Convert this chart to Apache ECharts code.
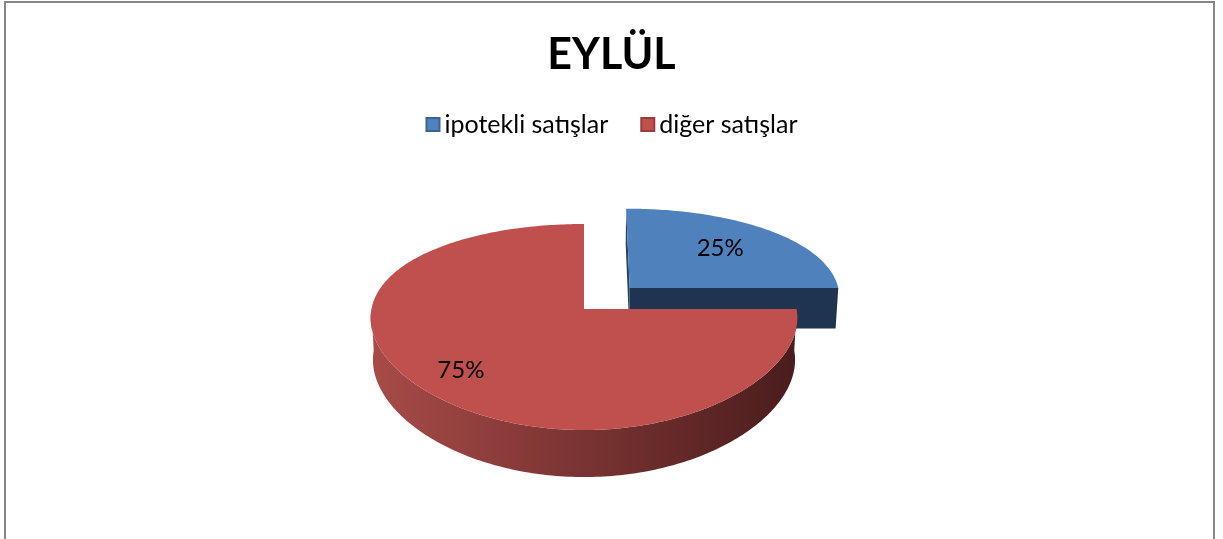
<!DOCTYPE html>
<html>
<head>
<meta charset="utf-8">
<style>
  html, body { margin: 0; padding: 0; background: #fff; }
  #chart { width: 1223px; height: 539px; }
</style>
<script src="https://cdn.jsdelivr.net/npm/echarts@6/dist/echarts.min.js"></script>
</head>
<body>
<div id="chart"></div>
<script>
// data
const categories = ['ipotekli satışlar', 'diğer satışlar'];
const values = [25, 75];
const explode = [0.31, 0];          // pulled out slices (fraction of radius)
const colors = ['#4f81bd', '#c0504d'];
const borderColors = ['#3a6496', '#9c3c39'];
// side walls: [light, dark]
const sideColors = [['#2a4466', '#1f3450'], ['#a84b48', '#4a1c1c']];
const labelRadius = [0.65, 0.78];

// fake 3D view (perspective tilt)
const view = {
  cx: 584, cy: 309,   // projected centre of the pie
  f: 1057,            // focal length (px), vertical
  fx: 1070,           // horizontal scale
  kx: 0.5,            // how much depth shrinks x (1 = full perspective)
  dist: 5.034,        // camera distance in radii
  elev: 28.4 * Math.PI / 180,
  height: 0.23        // thickness of the pie in radii
};

const total = values.reduce((a, b) => a + b, 0);
const sinE = Math.sin(view.elev);
const cosE = Math.cos(view.elev);

function project(X, Y, Z) {
  let dz = Y * cosE - Z * sinE;
  let up = Y * sinE + Z * cosE;
  return [
    view.cx + view.fx * X / (view.dist + view.kx * dz),
    view.cy - view.f * up / (view.dist + dz)
  ];
}

// angle is measured clockwise from 12 o'clock
function rim(theta, ox, oy, z) {
  return project(ox + Math.sin(theta), oy + Math.cos(theta), z);
}

function arcAngles(a0, a1) {
  let res = [];
  let n = Math.max(2, Math.ceil((a1 - a0) / (Math.PI / 180)));
  for (let i = 0; i <= n; i++) res.push(a0 + (a1 - a0) * i / n);
  return res;
}

function renderSlice(params, api) {
  let idx = params.seriesIndex;
  let before = 0;
  for (let i = 0; i < idx; i++) before += values[i];
  let a0 = before / total * Math.PI * 2;
  let a1 = (before + api.value(0)) / total * Math.PI * 2;
  let mid = (a0 + a1) / 2;
  let ox = explode[idx] * Math.sin(mid);
  let oy = explode[idx] * Math.cos(mid);
  let h = -view.height;
  let children = [];

  // camera position, used to decide which flat walls face us
  let camY = -view.dist * cosE;
  function faceVisible(nx, ny) {
    return (-ox) * nx + (camY - oy) * ny > 1e-6;
  }
  function radialWall(theta, color) {
    let pts = [
      project(ox, oy, 0),
      rim(theta, ox, oy, 0),
      rim(theta, ox, oy, h),
      project(ox, oy, h)
    ];
    children.push({ type: 'polygon', shape: { points: pts }, style: { fill: color } });
  }
  if (faceVisible(-Math.cos(a0), Math.sin(a0))) radialWall(a0, sideColors[idx][0]);
  if (faceVisible(Math.cos(a1), -Math.sin(a1))) radialWall(a1, sideColors[idx][1]);

  // outer curved wall, front half only
  let w0 = Math.max(a0, Math.PI / 2);
  let w1 = Math.min(a1, Math.PI * 1.5);
  if (w1 > w0) {
    let angs = arcAngles(w0, w1);
    let top = angs.map(t => rim(t, ox, oy, 0));
    let bot = angs.map(t => rim(t, ox, oy, h)).reverse();
    children.push({
      type: 'polygon',
      shape: { points: top.concat(bot) },
      style: {
        fill: new echarts.graphic.LinearGradient(0, 0, 1, 0, [
          { offset: 0, color: sideColors[idx][0] },
          { offset: 1, color: sideColors[idx][1] }
        ])
      }
    });
  }

  // top face
  let face = [project(ox, oy, 0)].concat(arcAngles(a0, a1).map(t => rim(t, ox, oy, 0)));
  children.push({ type: 'polygon', shape: { points: face }, style: { fill: colors[idx] } });

  // percent label
  let lr = labelRadius[idx];
  let lp = project(ox + lr * Math.sin(mid), oy + lr * Math.cos(mid), 0);
  children.push({
    type: 'text',
    style: {
      text: Math.round(api.value(0) / total * 100) + '%',
      x: lp[0], y: lp[1],
      fill: '#000',
      font: '24px Lato, "Open Sans", sans-serif',
      align: 'center', verticalAlign: 'middle'
    }
  });
  return { type: 'group', children: children };
}

const chart = echarts.init(document.getElementById('chart'));
chart.setOption({
  animation: false,
  title: {
    text: 'EYLÜL',
    left: 'center',
    top: 29,
    textStyle: { fontFamily: 'Lato', fontWeight: 'bold', fontSize: 43, color: '#000' }
  },
  legend: {
    top: 107,
    left: 'center',
    itemWidth: 13,
    itemHeight: 13,
    itemGap: 32,
    icon: 'rect',
    textStyle: { fontFamily: 'Lato', fontSize: 25, color: '#000' },
    data: categories
  },
  graphic: [{
    type: 'rect',
    shape: { x: 5, y: 2, width: 1209, height: 600 },
    style: { fill: 'none', stroke: '#868686', lineWidth: 2 },
    silent: true
  }],
  series: categories.map((name, i) => ({
    type: 'custom',
    name: name,
    coordinateSystem: 'none',
    z: 2 + i,
    itemStyle: { color: colors[i], borderColor: borderColors[i], borderWidth: 1 },
    renderItem: renderSlice,
    data: [[values[i]]]
  }))
});
</script>
</body>
</html>
